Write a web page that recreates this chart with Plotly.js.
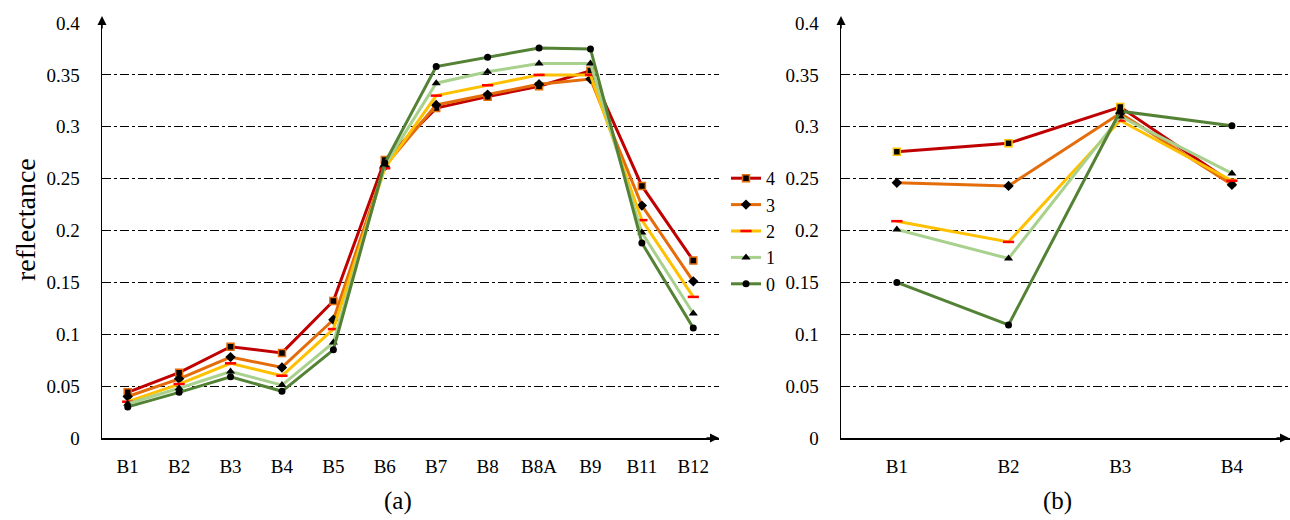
<!DOCTYPE html>
<html>
<head>
<meta charset="utf-8">
<script src="https://cdn.plot.ly/plotly-3.0.1.min.js"></script>
<style>html,body{margin:0;padding:0;background:#fff}#chart{width:1290px;height:520px}</style>
</head>
<body>
<div id="chart"></div>
<script>
// ---- data ----
var bandsA = ['B1','B2','B3','B4','B5','B6','B7','B8','B8A','B9','B11','B12'];
var a4 = [0.044, 0.063, 0.088, 0.082, 0.132, 0.268, 0.318, 0.329, 0.339, 0.354, 0.243, 0.171];
var a3 = [0.040, 0.057, 0.078, 0.068, 0.114, 0.262, 0.321, 0.331, 0.341, 0.346, 0.224, 0.151];
var a2 = [0.035, 0.052, 0.072, 0.060, 0.105, 0.260, 0.330, 0.340, 0.350, 0.350, 0.210, 0.136];
var a1 = [0.033, 0.048, 0.064, 0.051, 0.092, 0.263, 0.342, 0.353, 0.361, 0.361, 0.198, 0.120];
var a0 = [0.030, 0.044, 0.059, 0.045, 0.085, 0.265, 0.358, 0.367, 0.376, 0.375, 0.188, 0.106];

var bandsB = ['B1','B2','B3','B4'];
var b4 = [0.276, 0.284, 0.319, 0.246];
var b3 = [0.246, 0.243, 0.313, 0.244];
var b2 = [0.209, 0.189, 0.306, 0.248];
var b1 = [0.201, 0.173, 0.310, 0.255];
var b0 = [0.150, 0.109, 0.315, 0.301];

var seriesNames = ['4','3','2','1','0'];
var yTickVals = [0, 0.05, 0.1, 0.15, 0.2, 0.25, 0.3, 0.35, 0.4];
var yTickText = ['0','0.05','0.1','0.15','0.2','0.25','0.3','0.35','0.4'];
var panelLabels = ['(a)','(b)'];
var yTitle = 'reflectance';

// ---- styles ----
var colors = ['#C00000','#E46C0A','#FFC000','#A9D18E','#548235'];
var markersA = [
  {symbol:'square', size:7, color:'#000', line:{color:'#E46C0A', width:1.5}},
  {symbol:'diamond', size:8, color:'#000', line:{width:0}},
  {symbol:'line-ew', size:8, color:'#FF0000', line:{color:'#FF0000', width:2.5}},
  {symbol:'triangle-up', size:8, color:'#000', line:{width:0}},
  {symbol:'circle', size:7, color:'#000', line:{width:0}}
];
var markersB = JSON.parse(JSON.stringify(markersA));
markersB[0].line.color = '#FFC000';

var seriesA = [a4,a3,a2,a1,a0];
var seriesB = [b4,b3,b2,b1,b0];
var traces = [];
for (var i=0;i<5;i++){
  traces.push({x:bandsA, y:seriesA[i], name:seriesNames[i], type:'scatter', mode:'lines+markers',
    line:{color:colors[i], width:3}, marker:markersA[i], xaxis:'x', yaxis:'y', showlegend:true});
}
for (var i=0;i<5;i++){
  traces.push({x:bandsB, y:seriesB[i], name:seriesNames[i], type:'scatter', mode:'lines+markers',
    line:{color:colors[i], width:3}, marker:markersB[i], xaxis:'x2', yaxis:'y2', showlegend:false});
}

var W=1290, H=520;
function px(x){return x/W;}
function py(y){return 1-y/H;}
var fam = '"Liberation Serif", "Times New Roman", serif';
var font = {family:fam, size:19, color:'#000'};

var yAxisCommon = {range:[0,0.4], tickvals:yTickVals, ticktext:yTickText, showgrid:true,
  gridcolor:'#000', gridwidth:1, griddash:'dashdot', zeroline:false, showline:true,
  linecolor:'#000', linewidth:1.5, ticks:'', ticklabelstandoff:17, tickfont:font, fixedrange:true};
var xAxisCommon = {type:'category', showgrid:false, zeroline:false, showline:true,
  linecolor:'#000', linewidth:1.5, ticks:'', ticklabelstandoff:11, tickfont:font, fixedrange:true};

var yDom = [py(438), py(23)];
var layout = {
  width:W, height:H, margin:{l:0,r:0,t:0,b:0}, paper_bgcolor:'#fff', plot_bgcolor:'#fff',
  font:font, showlegend:true,
  xaxis: Object.assign({}, xAxisCommon, {domain:[px(102), px(719)], range:[-0.5, 11.5], anchor:'y'}),
  yaxis: Object.assign({}, yAxisCommon, {domain:yDom, anchor:'x'}),
  xaxis2: Object.assign({}, xAxisCommon, {domain:[px(841), 1], range:[-0.5, 3.52], anchor:'y2'}),
  yaxis2: Object.assign({}, yAxisCommon, {domain:yDom, anchor:'x2'}),
  legend:{x:px(726), y:py(160), xanchor:'left', yanchor:'top', bgcolor:'rgba(0,0,0,0)',
    font:{family:fam, size:18, color:'#000'}, traceorder:'normal', itemwidth:30, tracegroupgap:0},
  annotations:[
    {text:yTitle, xref:'paper', yref:'paper', x:px(25), y:py(220), textangle:-90, showarrow:false,
      font:{family:fam, size:28, color:'#000'}, xanchor:'center', yanchor:'middle'},
    {text:panelLabels[0], xref:'paper', yref:'paper', x:px(398), y:py(501), showarrow:false,
      font:{family:fam, size:25, color:'#000'}, xanchor:'center', yanchor:'middle'},
    {text:panelLabels[1], xref:'paper', yref:'paper', x:px(1057), y:py(501), showarrow:false,
      font:{family:fam, size:25, color:'#000'}, xanchor:'center', yanchor:'middle'},
    // axis arrows
    {text:'', xref:'paper', yref:'paper', x:px(102), y:py(16), ax:0, ay:14, showarrow:true, arrowhead:2, arrowsize:1.2, arrowwidth:1.5, arrowcolor:'#000'},
    {text:'', xref:'paper', yref:'paper', x:px(719), y:py(438), ax:-14, ay:0, showarrow:true, arrowhead:2, arrowsize:1.2, arrowwidth:1.5, arrowcolor:'#000'},
    {text:'', xref:'paper', yref:'paper', x:px(841), y:py(16), ax:0, ay:14, showarrow:true, arrowhead:2, arrowsize:1.2, arrowwidth:1.5, arrowcolor:'#000'},
    {text:'', xref:'paper', yref:'paper', x:px(1289), y:py(438), ax:-14, ay:0, showarrow:true, arrowhead:2, arrowsize:1.2, arrowwidth:1.5, arrowcolor:'#000'}
  ]
};

Plotly.newPlot('chart', traces, layout, {displayModeBar:false, staticPlot:true});
</script>
</body>
</html>
